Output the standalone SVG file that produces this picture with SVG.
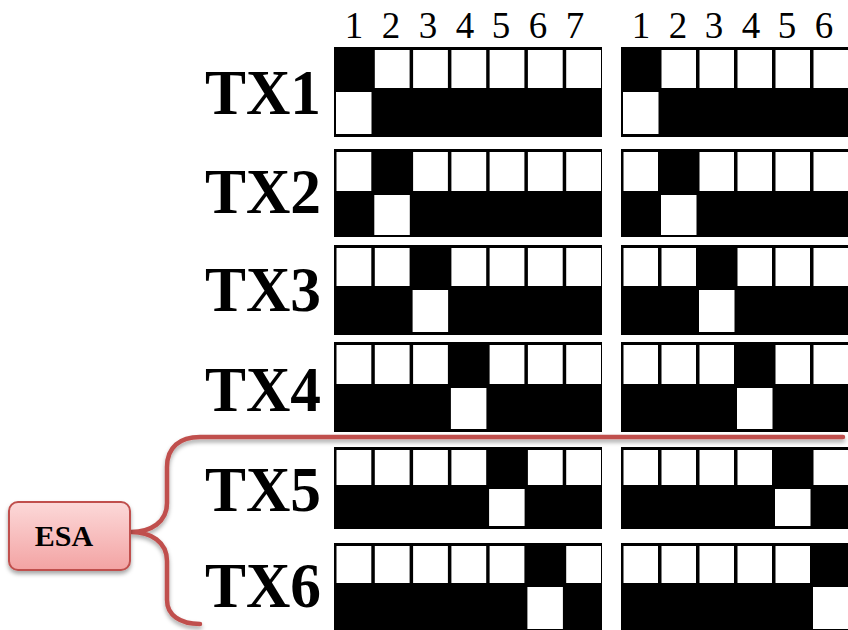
<svg xmlns="http://www.w3.org/2000/svg" width="848" height="630" viewBox="0 0 848 630">
<defs>
<style>
.k{fill:#000}
.w{fill:#fff}
.lbl{font-family:"Liberation Serif","Times New Roman",serif;font-weight:bold;font-size:63px;fill:#000}
.num{font-family:"Liberation Serif","Times New Roman",serif;font-size:37px;fill:#000;text-anchor:middle}
.red{fill:none;stroke:#c0504d;stroke-width:4.5;stroke-linecap:round}
</style>
<linearGradient id="pink" x1="0" y1="0" x2="0" y2="1">
<stop offset="0" stop-color="#fcd9d9"/>
<stop offset="1" stop-color="#f3a3a3"/>
</linearGradient>
<filter id="sh" x="-10%" y="-50%" width="120%" height="200%">
<feDropShadow dx="0" dy="3" stdDeviation="2" flood-color="#000" flood-opacity="0.35"/>
</filter>
</defs>
<rect width="848" height="630" fill="#fff"/>

<g id="numbers">
<text class="num" x="354" y="38">1</text>
<text class="num" x="391" y="38">2</text>
<text class="num" x="428" y="38">3</text>
<text class="num" x="465" y="38">4</text>
<text class="num" x="501" y="38">5</text>
<text class="num" x="538" y="38">6</text>
<text class="num" x="575" y="38">7</text>
<text class="num" x="641" y="38">1</text>
<text class="num" x="678" y="38">2</text>
<text class="num" x="714" y="38">3</text>
<text class="num" x="751" y="38">4</text>
<text class="num" x="787" y="38">5</text>
<text class="num" x="824" y="38">6</text>
</g>

<g id="tx1">
<text class="lbl" x="205" y="114" textLength="116" lengthAdjust="spacingAndGlyphs">TX1</text>
<rect class="k" x="334" y="47" width="268" height="90"/>
<rect class="w" x="374.8" y="50" width="34.8" height="38"/><rect class="w" x="413.1" y="50" width="34.8" height="38"/><rect class="w" x="451.4" y="50" width="34.8" height="38"/><rect class="w" x="489.6" y="50" width="34.8" height="38"/><rect class="w" x="527.9" y="50" width="34.8" height="38"/><rect class="w" x="566.2" y="50" width="34.8" height="38"/>
<rect class="w" x="336" y="92" width="35.5" height="42"/>
<rect class="k" x="621" y="47" width="230" height="90"/>
<rect class="w" x="661.5" y="50" width="34.5" height="38"/><rect class="w" x="699.5" y="50" width="34.5" height="38"/><rect class="w" x="737.5" y="50" width="34.5" height="38"/><rect class="w" x="775.5" y="50" width="34.5" height="38"/><rect class="w" x="813.5" y="50" width="34.5" height="38"/>
<rect class="w" x="623" y="92" width="35.5" height="42"/>
</g>

<g id="tx2">
<text class="lbl" x="205" y="213" textLength="116" lengthAdjust="spacingAndGlyphs">TX2</text>
<rect class="k" x="334" y="149" width="268" height="88"/>
<rect class="w" x="336.5" y="152" width="34.8" height="39"/><rect class="w" x="413.1" y="152" width="34.8" height="39"/><rect class="w" x="451.4" y="152" width="34.8" height="39"/><rect class="w" x="489.6" y="152" width="34.8" height="39"/><rect class="w" x="527.9" y="152" width="34.8" height="39"/><rect class="w" x="566.2" y="152" width="34.8" height="39"/>
<rect class="w" x="374.3" y="195" width="35.5" height="40"/>
<rect class="k" x="621" y="149" width="230" height="88"/>
<rect class="w" x="623.5" y="152" width="34.5" height="39"/><rect class="w" x="699.5" y="152" width="34.5" height="39"/><rect class="w" x="737.5" y="152" width="34.5" height="39"/><rect class="w" x="775.5" y="152" width="34.5" height="39"/><rect class="w" x="813.5" y="152" width="34.5" height="39"/>
<rect class="w" x="661" y="195" width="35.5" height="40"/>
</g>

<g id="tx3">
<text class="lbl" x="205" y="311" textLength="116" lengthAdjust="spacingAndGlyphs">TX3</text>
<rect class="k" x="334" y="245" width="268" height="90"/>
<rect class="w" x="336.5" y="248" width="34.8" height="38"/><rect class="w" x="374.8" y="248" width="34.8" height="38"/><rect class="w" x="451.4" y="248" width="34.8" height="38"/><rect class="w" x="489.6" y="248" width="34.8" height="38"/><rect class="w" x="527.9" y="248" width="34.8" height="38"/><rect class="w" x="566.2" y="248" width="34.8" height="38"/>
<rect class="w" x="412.6" y="290" width="35.5" height="42"/>
<rect class="k" x="621" y="245" width="230" height="90"/>
<rect class="w" x="623.5" y="248" width="34.5" height="38"/><rect class="w" x="661.5" y="248" width="34.5" height="38"/><rect class="w" x="737.5" y="248" width="34.5" height="38"/><rect class="w" x="775.5" y="248" width="34.5" height="38"/><rect class="w" x="813.5" y="248" width="34.5" height="38"/>
<rect class="w" x="699" y="290" width="35.5" height="42"/>
</g>

<g id="tx4">
<text class="lbl" x="205" y="411" textLength="116" lengthAdjust="spacingAndGlyphs">TX4</text>
<rect class="k" x="334" y="342" width="268" height="90"/>
<rect class="w" x="336.5" y="345" width="34.8" height="39"/><rect class="w" x="374.8" y="345" width="34.8" height="39"/><rect class="w" x="413.1" y="345" width="34.8" height="39"/><rect class="w" x="489.6" y="345" width="34.8" height="39"/><rect class="w" x="527.9" y="345" width="34.8" height="39"/><rect class="w" x="566.2" y="345" width="34.8" height="39"/>
<rect class="w" x="450.9" y="388" width="35.5" height="41"/>
<rect class="k" x="621" y="342" width="230" height="90"/>
<rect class="w" x="623.5" y="345" width="34.5" height="39"/><rect class="w" x="661.5" y="345" width="34.5" height="39"/><rect class="w" x="699.5" y="345" width="34.5" height="39"/><rect class="w" x="775.5" y="345" width="34.5" height="39"/><rect class="w" x="813.5" y="345" width="34.5" height="39"/>
<rect class="w" x="737" y="388" width="35.5" height="41"/>
</g>

<g id="tx5">
<text class="lbl" x="205" y="511" textLength="116" lengthAdjust="spacingAndGlyphs">TX5</text>
<rect class="k" x="334" y="447" width="268" height="82"/>
<rect class="w" x="336.5" y="450" width="34.8" height="35"/><rect class="w" x="374.8" y="450" width="34.8" height="35"/><rect class="w" x="413.1" y="450" width="34.8" height="35"/><rect class="w" x="451.4" y="450" width="34.8" height="35"/><rect class="w" x="527.9" y="450" width="34.8" height="35"/><rect class="w" x="566.2" y="450" width="34.8" height="35"/>
<rect class="w" x="489.1" y="489" width="35.5" height="37"/>
<rect class="k" x="621" y="447" width="230" height="82"/>
<rect class="w" x="623.5" y="450" width="34.5" height="35"/><rect class="w" x="661.5" y="450" width="34.5" height="35"/><rect class="w" x="699.5" y="450" width="34.5" height="35"/><rect class="w" x="737.5" y="450" width="34.5" height="35"/><rect class="w" x="813.5" y="450" width="34.5" height="35"/>
<rect class="w" x="775" y="489" width="35.5" height="37"/>
</g>

<g id="tx6">
<text class="lbl" x="205" y="607" textLength="116" lengthAdjust="spacingAndGlyphs">TX6</text>
<rect class="k" x="334" y="543" width="268" height="90"/>
<rect class="w" x="336.5" y="546" width="34.8" height="37"/><rect class="w" x="374.8" y="546" width="34.8" height="37"/><rect class="w" x="413.1" y="546" width="34.8" height="37"/><rect class="w" x="451.4" y="546" width="34.8" height="37"/><rect class="w" x="489.6" y="546" width="34.8" height="37"/><rect class="w" x="566.2" y="546" width="34.8" height="37"/>
<rect class="w" x="527.4" y="587" width="35.5" height="42"/>
<rect class="k" x="621" y="543" width="230" height="90"/>
<rect class="w" x="623.5" y="546" width="34.5" height="37"/><rect class="w" x="661.5" y="546" width="34.5" height="37"/><rect class="w" x="699.5" y="546" width="34.5" height="37"/><rect class="w" x="737.5" y="546" width="34.5" height="37"/><rect class="w" x="775.5" y="546" width="34.5" height="37"/>
<rect class="w" x="813" y="587" width="35.5" height="42"/>
</g>

<g id="connectors" filter="url(#sh)">
<path class="red" d="M843,437 L200,437 C180,437 167,447 167,467 L167,503 C167,522 151,532 131,532 C151,532 167,542 167,561 L167,600 C167,615 180,624 200,624"/>
</g>

<g id="esa">
<rect x="9" y="502" width="121" height="68" rx="9" fill="url(#pink)" stroke="#c0504d" stroke-width="2" filter="url(#sh)"/>
<text x="64" y="546" text-anchor="middle" style="font-family:'Liberation Serif','Times New Roman',serif;font-weight:bold;font-size:30px;fill:#000">ESA</text>
</g>
</svg>
